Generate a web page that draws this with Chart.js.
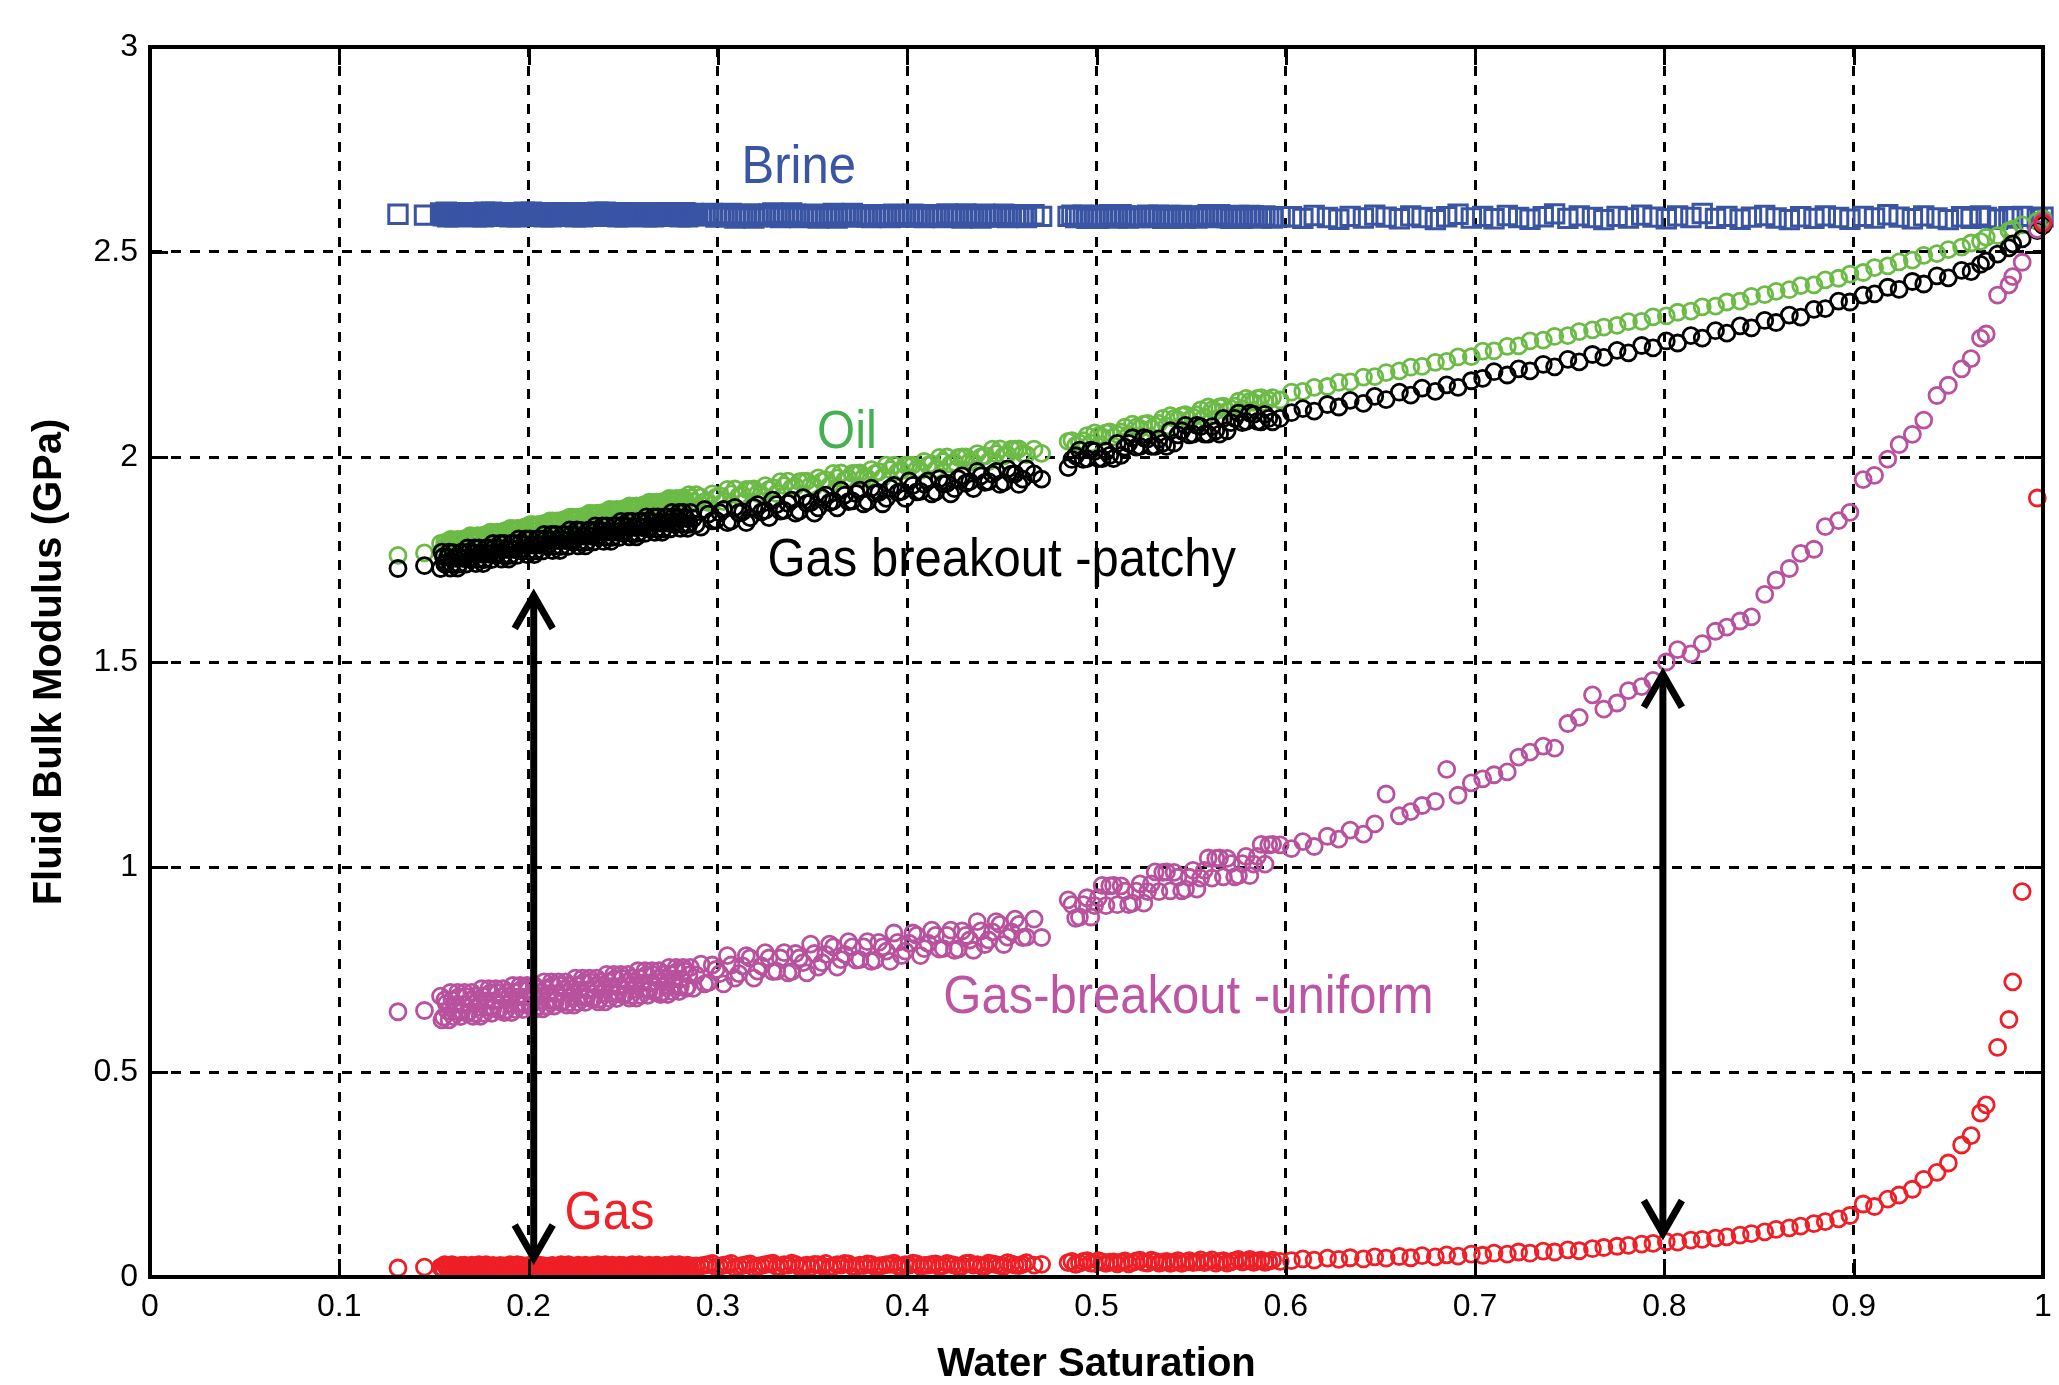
<!DOCTYPE html>
<html>
<head>
<meta charset="utf-8">
<script src="https://cdn.jsdelivr.net/npm/chart.js@4.4.0/dist/chart.umd.min.js"></script>
<style>
html,body{margin:0;padding:0;background:#fff;}
#wrap{width:2059px;height:1385px;position:relative;background:#fff;}
</style>
</head>
<body>
<div id="wrap"><canvas id="c" width="2059" height="1385"></canvas></div>
<script>
// ---------- DATA ----------
// segments: A | B | B2 | C | C2 | D | D2 | E
const sw = [
0.131,0.145,
// B
0.1535,0.155,0.1565,0.158,0.1595,0.161,0.1625,0.164,0.1655,0.167,
0.1685,0.170,0.1715,0.173,0.1745,0.176,0.1775,0.179,0.1805,0.182,
0.1835,0.185,0.1865,0.188,0.1895,0.191,0.1925,0.194,0.1955,0.197,
0.1985,0.200,0.2015,0.203,0.2045,0.206,0.2075,0.209,0.2105,0.212,
0.2135,0.215,0.2165,0.218,0.2195,0.221,0.2225,0.224,0.2255,0.227,
0.2285,0.230,0.2315,0.233,0.2345,0.236,0.2375,0.239,0.2405,0.242,
0.2435,0.245,0.2465,0.248,0.2495,0.251,0.2525,0.254,0.2555,0.257,
0.2585,0.260,0.2615,0.263,0.2645,0.266,0.2675,0.269,0.2705,0.272,
0.2735,0.275,0.2765,0.278,0.2795,0.281,0.2825,0.284,0.2855,0.287,
0.2885,
// B2
0.1542,0.1557,0.1572,0.1587,0.1602,0.1617,0.1632,0.1647,0.1662,0.1677,
0.1692,0.1707,0.1722,0.1737,0.1752,0.1767,0.1782,0.1797,0.1812,0.1827,
0.1842,0.1857,0.1872,0.1887,0.1902,0.1917,0.1932,0.1947,0.1962,0.1977,
0.1992,0.2007,0.2022,0.2037,0.2052,0.2067,0.2082,0.2097,0.2112,0.2127,
0.2142,0.2157,0.2172,0.2187,0.2202,0.2217,0.2232,0.2247,0.2262,0.2277,
0.2292,0.2307,0.2322,0.2337,0.2352,0.2367,0.2382,0.2397,0.2412,0.2427,
0.2442,0.2457,0.2472,0.2487,0.2502,0.2517,0.2532,0.2547,0.2562,0.2577,
0.2592,0.2607,0.2622,0.2637,0.2652,0.2667,0.2682,0.2697,0.2712,0.2727,
0.2742,0.2757,0.2772,0.2787,0.2802,0.2817,0.2832,0.2847,
// C
0.291,0.295,0.299,0.303,0.307,0.311,0.315,0.319,0.323,0.327,
0.331,0.335,0.339,0.343,0.347,0.351,0.355,0.359,0.363,0.367,
0.371,0.375,0.379,0.383,0.387,0.391,0.395,0.399,0.403,0.407,
0.411,0.415,0.419,0.423,0.427,0.431,0.435,0.439,0.443,0.447,
0.451,0.455,0.459,0.463,0.467,0.471,
// C2
0.293,0.297,0.301,0.305,0.309,0.313,0.317,0.321,0.325,0.329,
0.333,0.337,0.341,0.345,0.349,0.353,0.357,0.361,0.365,0.369,
0.373,0.377,0.381,0.385,0.389,0.393,0.397,0.401,0.405,0.409,
0.413,0.417,0.421,0.425,0.429,0.433,0.437,0.441,0.445,0.449,
0.453,0.457,0.461,
// D
0.485,0.489,0.493,0.497,0.501,0.505,0.509,0.513,0.517,0.521,
0.525,0.529,0.533,0.537,0.541,0.545,0.549,0.553,0.557,0.561,
0.565,0.569,0.573,0.577,0.581,0.585,0.589,0.593,0.597,
// D2
0.487,0.491,0.495,0.499,0.503,0.507,0.511,0.515,0.519,0.523,
0.527,0.531,0.535,0.539,0.543,0.547,0.551,0.555,0.559,0.563,
0.567,0.571,0.575,0.579,0.583,0.587,0.591,
// E
0.603,0.609,0.615,0.622,0.628,0.634,0.641,0.647,0.653,0.660,0.666,0.672,0.679,0.685,0.691,0.698,
0.704,0.710,0.717,0.723,0.729,0.736,0.742,0.749,0.755,0.762,0.768,0.775,0.781,0.788,0.794,0.801,
0.807,0.814,0.820,0.827,0.833,0.840,0.846,0.853,0.859,0.866,0.872,0.879,0.885,0.892,0.898,
0.905,0.911,0.918,0.924,0.931,0.937,0.944,0.950,0.957,0.962,0.967,0.970,0.976,0.982,0.984,0.989,0.997,1.000
];

const brine = [
2.592,2.590,
// B
2.595,2.588,2.597,2.590,2.593,2.586,2.596,2.591,2.589,2.594,
2.587,2.592,2.596,2.589,2.591,2.586,2.594,2.590,2.597,2.588,
2.592,2.595,2.587,2.591,2.593,2.589,2.596,2.586,2.590,2.594,
2.588,2.592,2.597,2.589,2.591,2.587,2.595,2.590,2.593,2.586,
2.592,2.596,2.588,2.591,2.594,2.589,2.587,2.595,2.590,2.593,
2.586,2.592,2.596,2.589,2.591,2.588,2.594,2.590,2.597,2.587,
2.592,2.595,2.589,2.591,2.593,2.586,2.596,2.590,2.588,2.594,
2.587,2.592,2.595,2.589,2.591,2.586,2.594,2.590,2.596,2.588,
2.592,2.595,2.587,2.591,2.593,2.589,2.596,2.586,2.590,2.594,
2.589,
// B2
2.590,2.593,2.586,2.596,2.591,2.589,2.594,
2.587,2.592,2.596,2.589,2.591,2.586,2.594,2.590,2.597,2.588,
2.592,2.595,2.587,2.591,2.593,2.589,2.596,2.586,2.590,2.594,
2.588,2.592,2.597,2.589,2.591,2.587,2.595,2.590,2.593,2.586,
2.592,2.596,2.588,2.591,2.594,2.589,2.587,2.595,2.590,2.593,
2.586,2.592,2.596,2.589,2.591,2.588,2.594,2.590,2.597,2.587,
2.592,2.595,2.589,2.591,2.593,2.586,2.596,2.590,2.588,2.594,
2.587,2.592,2.595,2.589,2.591,2.586,2.594,2.590,2.596,2.588,
2.592,2.595,2.587,2.591,2.593,2.589,2.596,2.586,2.590,2.594,
2.589,
// C
2.588,2.592,2.585,2.590,2.594,2.587,2.591,2.583,2.589,2.593,
2.586,2.590,2.595,2.584,2.588,2.592,2.586,2.590,2.583,2.589,
2.594,2.587,2.585,2.591,2.588,2.584,2.590,2.586,2.592,2.585,
2.589,2.587,2.584,2.591,2.586,2.593,2.588,2.583,2.590,2.586,
2.592,2.585,2.589,2.584,2.591,2.587,
// C2
2.590,2.594,2.587,2.591,2.583,2.589,2.593,
2.586,2.590,2.595,2.584,2.588,2.592,2.586,2.590,2.583,2.589,
2.594,2.587,2.585,2.591,2.588,2.584,2.590,2.586,2.592,2.585,
2.589,2.587,2.584,2.591,2.586,2.593,2.588,2.583,2.590,2.586,
2.592,2.585,2.589,2.584,2.591,2.587,
// D
2.587,2.584,2.590,2.586,2.582,2.589,2.585,2.591,2.583,2.588,
2.586,2.584,2.590,2.587,2.582,2.589,2.585,2.583,2.588,2.586,
2.591,2.584,2.587,2.582,2.589,2.585,2.588,2.583,2.586,
// D2
2.590,2.586,2.582,2.589,2.585,2.591,2.583,2.588,
2.586,2.584,2.590,2.587,2.582,2.589,2.585,2.583,2.588,2.586,
2.591,2.584,2.587,2.582,2.589,2.585,2.588,2.583,2.586,
// E
2.586,2.582,2.589,2.584,2.580,2.587,2.583,2.590,2.585,2.581,
2.588,2.584,2.579,2.586,2.592,2.583,2.587,2.581,2.589,2.584,
2.580,2.586,2.593,2.582,2.588,2.584,2.579,2.587,2.583,2.590,
2.585,2.581,2.588,2.584,2.594,2.582,2.587,2.580,2.585,2.589,
2.583,2.579,2.586,2.582,2.588,2.584,2.580,2.587,2.583,2.591,
2.585,2.581,2.588,2.583,2.579,2.586,2.582,2.588,2.584,2.580,
2.586,2.583,2.587,2.582,2.585
];

const oil = [
1.760,1.766,
// B
1.789,1.772,1.786,1.771,1.792,1.783,1.799,1.798,1.781,1.795,
1.780,1.801,1.792,1.808,1.807,1.791,1.804,1.789,1.810,1.801,
1.817,1.816,1.800,1.813,1.798,1.820,1.810,1.826,1.825,1.809,
1.822,1.807,1.829,1.819,1.835,1.835,1.818,1.831,1.816,1.838,
1.828,1.844,1.844,1.827,1.840,1.826,1.847,1.837,1.853,1.853,
1.836,1.849,1.835,1.856,1.846,1.863,1.862,1.845,1.858,1.844,
1.865,1.855,1.872,1.871,1.854,1.868,1.853,1.874,1.864,1.881,
1.880,1.863,1.877,1.862,1.883,1.874,1.890,1.889,1.872,1.886,
1.871,1.892,1.883,1.899,1.898,1.882,1.895,1.880,1.901,1.892,
1.908,
// B2
1.771,1.792,1.783,1.799,1.798,1.781,1.795,
1.780,1.801,1.792,1.808,1.807,1.791,1.804,1.789,1.810,1.801,
1.817,1.816,1.800,1.813,1.798,1.820,1.810,1.826,1.825,1.809,
1.822,1.807,1.829,1.819,1.835,1.835,1.818,1.831,1.816,1.838,
1.828,1.844,1.844,1.827,1.840,1.826,1.847,1.837,1.853,1.853,
1.836,1.849,1.835,1.856,1.846,1.863,1.862,1.845,1.858,1.844,
1.865,1.855,1.872,1.871,1.854,1.868,1.853,1.874,1.864,1.881,
1.880,1.863,1.877,1.862,1.883,1.874,1.890,1.889,1.872,1.886,
1.871,1.892,1.883,1.899,1.898,1.882,1.895,1.880,1.901,1.892,
1.908,
// C
1.902,1.889,1.902,1.891,1.910,1.905,1.921,1.922,1.908,1.921,
1.911,1.930,1.925,1.940,1.941,1.928,1.941,1.931,1.949,1.944,
1.960,1.961,1.948,1.960,1.950,1.969,1.964,1.980,1.980,1.967,
1.980,1.970,1.989,1.983,1.999,2.000,1.987,2.000,1.989,2.008,
2.003,2.019,2.020,2.006,2.019,2.009,
// C2
1.891,1.910,1.905,1.921,1.922,1.908,1.921,
1.911,1.930,1.925,1.940,1.941,1.928,1.941,1.931,1.949,1.944,
1.960,1.961,1.948,1.960,1.950,1.969,1.964,1.980,1.980,1.967,
1.980,1.970,1.989,1.983,1.999,2.000,1.987,2.000,1.989,2.008,
2.003,2.019,2.020,2.006,2.019,2.009,
// D
2.038,2.028,2.040,2.034,2.052,2.059,2.049,2.061,2.055,2.073,
2.080,2.070,2.082,2.076,2.094,2.101,2.091,2.103,2.097,2.115,
2.122,2.112,2.124,2.118,2.136,2.143,2.133,2.145,2.139,
// D2
2.040,2.034,2.052,2.059,2.049,2.061,2.055,2.073,
2.080,2.070,2.082,2.076,2.094,2.101,2.091,2.103,2.097,2.115,
2.122,2.112,2.124,2.118,2.136,2.143,2.133,2.145,2.139,
// E
2.158,2.160,2.170,2.172,2.182,2.183,2.195,2.196,2.206,2.210,
2.219,2.221,2.231,2.233,2.244,2.245,
2.258,2.259,2.270,2.271,2.283,2.285,2.294,2.296,2.306,2.310,2.317,2.321,2.330,2.331,2.342,2.344,
2.353,2.356,2.366,2.368,2.378,2.380,2.392,2.396,2.404,2.408,2.418,2.420,2.432,2.436,2.446,
2.450,2.462,2.466,2.476,2.480,2.492,2.496,2.506,2.512,2.522,2.526,2.536,2.540,2.552,2.556,2.566,2.575,2.582
];

const patchy = [
1.728,1.735,
// B
1.728,1.757,1.742,1.768,1.739,1.755,1.729,1.767,1.753,1.739,
1.768,1.753,1.778,1.750,1.766,1.740,1.778,1.763,1.750,1.779,
1.764,1.789,1.760,1.777,1.751,1.789,1.774,1.760,1.790,1.775,
1.800,1.771,1.787,1.762,1.800,1.785,1.771,1.800,1.786,1.811,
1.782,1.798,1.772,1.811,1.796,1.782,1.811,1.796,1.822,1.793,
1.809,1.783,1.821,1.807,1.793,1.822,1.807,1.832,1.804,1.820,
1.794,1.832,1.817,1.804,1.833,1.818,1.843,1.814,1.831,1.805,
1.843,1.828,1.814,1.844,1.829,1.854,1.825,1.841,1.816,1.854,
1.839,1.825,1.854,1.840,1.865,1.836,1.852,1.826,1.865,1.850,
1.836,
// B2
1.768,1.739,1.755,1.729,1.767,1.753,1.739,
1.768,1.753,1.778,1.750,1.766,1.740,1.778,1.763,1.750,1.779,
1.764,1.789,1.760,1.777,1.751,1.789,1.774,1.760,1.790,1.775,
1.800,1.771,1.787,1.762,1.800,1.785,1.771,1.800,1.786,1.811,
1.782,1.798,1.772,1.811,1.796,1.782,1.811,1.796,1.822,1.793,
1.809,1.783,1.821,1.807,1.793,1.822,1.807,1.832,1.804,1.820,
1.794,1.832,1.817,1.804,1.833,1.818,1.843,1.814,1.831,1.805,
1.843,1.828,1.814,1.844,1.829,1.854,1.825,1.841,1.816,1.854,
1.839,1.825,1.854,1.840,1.865,1.836,1.852,1.826,1.865,1.850,
1.836,
// C
1.829,1.861,1.846,1.872,1.844,1.864,1.840,1.877,1.866,1.852,
1.884,1.870,1.895,1.868,1.887,1.863,1.901,1.889,1.876,1.907,
1.893,1.919,1.891,1.911,1.886,1.924,1.913,1.899,1.931,1.916,
1.942,1.915,1.934,1.910,1.947,1.936,1.923,1.954,1.940,1.965,
1.938,1.958,1.933,1.971,1.959,1.946,
// C2
1.872,1.844,1.864,1.840,1.877,1.866,1.852,
1.884,1.870,1.895,1.868,1.887,1.863,1.901,1.889,1.876,1.907,
1.893,1.919,1.891,1.911,1.886,1.924,1.913,1.899,1.931,1.916,
1.942,1.915,1.934,1.910,1.947,1.936,1.923,1.954,1.940,1.965,
1.938,1.958,1.933,1.971,1.959,1.946,
// D
1.974,2.003,1.994,2.017,1.996,2.014,1.996,2.004,2.033,2.024,
2.047,2.026,2.044,2.026,2.034,2.064,2.054,2.077,2.056,2.074,
2.056,2.064,2.094,2.084,2.107,2.087,2.104,2.086,2.094,
// D2
1.994,2.017,1.996,2.014,1.996,2.004,2.033,2.024,
2.047,2.026,2.044,2.026,2.034,2.064,2.054,2.077,2.056,2.074,
2.056,2.064,2.094,2.084,2.107,2.087,2.104,2.086,2.094,
// E
2.108,2.118,2.112,2.128,2.122,2.138,2.131,2.148,2.140,2.158,
2.151,2.168,2.160,2.176,2.170,2.186,
2.192,2.208,2.200,2.215,2.210,2.226,2.220,2.238,2.232,2.250,2.243,2.260,2.254,2.272,2.266,2.283,
2.278,2.296,2.290,2.308,2.302,2.320,2.315,2.333,2.328,2.346,2.341,2.360,2.362,2.380,2.378,
2.395,2.398,2.414,2.409,2.428,2.422,2.442,2.437,2.455,2.452,2.470,2.478,2.495,2.510,2.520,2.532,2.552,2.565
];

const uniform = [
0.647,0.650,
// B
0.685,0.634,0.667,0.627,0.676,0.649,0.694,0.635,0.665,0.684,
0.647,0.694,0.643,0.675,0.636,0.685,0.658,0.703,0.643,0.674,
0.693,0.656,0.703,0.651,0.684,0.645,0.694,0.667,0.711,0.652,
0.683,0.702,0.665,0.711,0.660,0.693,0.654,0.703,0.675,0.720,
0.661,0.692,0.711,0.673,0.720,0.669,0.702,0.663,0.711,0.684,
0.729,0.670,0.701,0.719,0.682,0.729,0.678,0.711,0.671,0.720,
0.693,0.738,0.679,0.709,0.728,0.691,0.738,0.687,0.719,0.680,
0.729,0.702,0.747,0.687,0.718,0.737,0.700,0.747,0.695,0.728,
0.689,0.738,0.711,0.755,0.696,0.727,0.746,0.709,0.755,0.704,
0.737,
// B2
0.627,0.676,0.649,0.694,0.635,0.665,0.684,
0.647,0.694,0.643,0.675,0.636,0.685,0.658,0.703,0.643,0.674,
0.693,0.656,0.703,0.651,0.684,0.645,0.694,0.667,0.711,0.652,
0.683,0.702,0.665,0.711,0.660,0.693,0.654,0.703,0.675,0.720,
0.661,0.692,0.711,0.673,0.720,0.669,0.702,0.663,0.711,0.684,
0.729,0.670,0.701,0.719,0.682,0.729,0.678,0.711,0.671,0.720,
0.693,0.738,0.679,0.709,0.728,0.691,0.738,0.687,0.719,0.680,
0.729,0.702,0.747,0.687,0.718,0.737,0.700,0.747,0.695,0.728,
0.689,0.738,0.711,0.755,0.696,0.727,0.746,0.709,0.755,0.704,
0.737,
// C
0.763,0.718,0.750,0.715,0.761,0.740,0.784,0.729,0.759,0.778,
0.746,0.791,0.745,0.778,0.742,0.789,0.767,0.812,0.756,0.787,
0.805,0.774,0.818,0.773,0.805,0.770,0.816,0.795,0.839,0.784,
0.814,0.833,0.801,0.846,0.800,0.833,0.797,0.844,0.822,0.867,
0.811,0.842,0.860,0.829,0.873,0.828,
// C2
0.715,0.761,0.740,0.784,0.729,0.759,0.778,
0.746,0.791,0.745,0.778,0.742,0.789,0.767,0.812,0.756,0.787,
0.805,0.774,0.818,0.773,0.805,0.770,0.816,0.795,0.839,0.784,
0.814,0.833,0.801,0.846,0.800,0.833,0.797,0.844,0.822,0.867,
0.811,0.842,0.860,0.829,0.873,0.828,
// D
0.920,0.875,0.908,0.878,0.925,0.906,0.955,0.954,0.908,0.941,
0.912,0.959,0.940,0.988,0.987,0.942,0.975,0.946,0.992,0.973,
1.022,1.021,0.976,1.008,0.979,1.026,1.007,1.055,1.054,
// D2
0.908,0.878,0.925,0.906,0.955,0.954,0.908,0.941,
0.912,0.959,0.940,0.988,0.987,0.942,0.975,0.946,0.992,0.973,
1.022,1.021,0.976,1.008,0.979,1.026,1.007,1.055,1.054,
// E
1.045,1.062,1.050,1.075,1.068,1.090,1.080,1.105,1.178,1.125,
1.135,1.150,1.160,1.238,1.175,1.205,
1.215,1.225,1.232,1.268,1.280,1.295,1.290,1.350,1.365,1.420,1.385,1.400,1.430,1.440,1.455,1.500,
1.530,1.520,1.545,1.575,1.585,1.600,1.610,1.665,1.700,1.728,1.765,1.775,1.830,1.845,1.865,
1.945,1.955,1.995,2.030,2.055,2.090,2.150,2.175,2.215,2.240,2.290,2.300,2.395,2.420,2.440,2.475,2.555,2.575
];

const gas = [
0.022,0.024,
// B
0.024,0.019,0.027,0.022,0.030,0.020,0.025,0.028,0.021,0.026,
0.023,0.029,0.019,0.025,0.022,0.027,0.030,0.021,0.024,0.026,
0.020,0.028,0.023,0.025,0.019,0.027,0.022,0.030,0.024,0.021,
0.026,0.028,0.020,0.025,0.023,0.029,0.022,0.026,0.019,0.027,
0.024,0.021,0.028,0.025,0.022,0.030,0.020,0.026,0.023,0.027,
0.021,0.029,0.024,0.022,0.026,0.019,0.028,0.023,0.030,0.025,
0.021,0.027,0.024,0.029,0.020,0.026,0.022,0.028,0.025,0.023,
0.030,0.021,0.027,0.024,0.019,0.026,0.029,0.022,0.025,0.028,
0.023,0.020,0.027,0.024,0.030,0.022,0.026,0.029,0.021,0.025,
0.027,
// B2
0.022,0.030,0.020,0.025,0.028,0.021,0.026,
0.023,0.029,0.019,0.025,0.022,0.027,0.030,0.021,0.024,0.026,
0.020,0.028,0.023,0.025,0.019,0.027,0.022,0.030,0.024,0.021,
0.026,0.028,0.020,0.025,0.023,0.029,0.022,0.026,0.019,0.027,
0.024,0.021,0.028,0.025,0.022,0.030,0.020,0.026,0.023,0.027,
0.021,0.029,0.024,0.022,0.026,0.019,0.028,0.023,0.030,0.025,
0.021,0.027,0.024,0.029,0.020,0.026,0.022,0.028,0.025,0.023,
0.030,0.021,0.027,0.024,0.019,0.026,0.029,0.022,0.025,0.028,
0.023,0.020,0.027,0.024,0.030,0.022,0.026,0.029,0.021,0.025,
0.027,
// C
0.027,0.031,0.024,0.029,0.033,0.026,0.030,0.023,0.028,0.032,
0.026,0.030,0.034,0.025,0.029,0.031,0.027,0.024,0.030,0.033,
0.026,0.029,0.032,0.025,0.028,0.031,0.027,0.030,0.034,0.026,
0.029,0.032,0.028,0.031,0.025,0.033,0.029,0.027,0.034,0.030,
0.026,0.032,0.028,0.035,0.029,0.031,
// C2
0.029,0.033,0.026,0.030,0.023,0.028,0.032,
0.026,0.030,0.034,0.025,0.029,0.031,0.027,0.024,0.030,0.033,
0.026,0.029,0.032,0.025,0.028,0.031,0.027,0.030,0.034,0.026,
0.029,0.032,0.028,0.031,0.025,0.033,0.029,0.027,0.034,0.030,
0.026,0.032,0.028,0.035,0.029,0.031,
// D
0.035,0.031,0.038,0.034,0.040,0.033,0.037,0.036,0.032,0.039,
0.035,0.041,0.034,0.038,0.036,0.033,0.040,0.037,0.035,0.042,
0.038,0.034,0.040,0.037,0.043,0.039,0.036,0.041,0.038,
// D2
0.038,0.034,0.040,0.033,0.037,0.036,0.032,0.039,
0.035,0.041,0.034,0.038,0.036,0.033,0.040,0.037,0.035,0.042,
0.038,0.034,0.040,0.037,0.043,0.039,0.036,0.041,0.038,
// E
0.040,0.044,0.041,0.046,0.043,0.047,0.044,0.049,0.046,0.050,
0.047,0.052,0.049,0.054,0.051,0.056,
0.053,0.058,0.056,0.061,0.058,0.063,0.061,0.066,0.064,0.069,0.072,0.075,0.077,0.080,0.082,0.086,
0.085,0.090,0.092,0.095,0.098,0.102,0.106,0.110,0.116,0.120,0.124,0.130,0.135,0.142,0.150,
0.178,0.172,0.190,0.200,0.214,0.238,0.255,0.278,0.322,0.345,0.400,0.420,0.560,0.628,0.720,0.940,1.900,2.570
];

const xTickValues = [0,0.1,0.2,0.3,0.4,0.5,0.6,0.7,0.8,0.9,1];
const xTickLabels = ['0','0.1','0.2','0.3','0.4','0.5','0.6','0.7','0.8','0.9','1'];
const yTickValues = [0,0.5,1,1.5,2,2.5,3];
const yTickLabels = ['0','0.5','1','1.5','2','2.5','3'];
const xTitle = 'Water Saturation';
const yTitle = 'Fluid Bulk Modulus (GPa)';

// in-plot labels (data coordinates of the left/middle anchor)
const labelTexts = ['Brine','Oil','Gas breakout -patchy','Gas-breakout -uniform','Gas'];
const labelX = [0.3125,0.3524,0.3262,0.4191,0.219];
const labelY = [2.705,2.057,1.745,0.680,0.154];

// double-headed arrows (data coordinates)
const arrowX = [0.2027,0.7992];
const arrowTop = [1.679,1.487];
const arrowBottom = [0.029,0.089];

// ---------- STYLE ----------
const FONT = '"Liberation Sans", Arial, Helvetica, sans-serif';
const COLORS = {brine:'#3a54a4', oil:'#6bbb46', patchy:'#000000', uniform:'#b8519e', gas:'#ee1f26'};
const labelColors = ['#3b55a5','#45b052','#000000','#bd55a3','#ee2228'];

function series(name, vals, color, style, radius, bw, order) {
  const pts = [];
  for (let i = 0; i < sw.length; i++) {
    if (vals[i] !== undefined) pts.push({x: sw[i], y: vals[i]});
  }
  return {
    label: name, data: pts, showLine: false,
    pointStyle: style, pointRadius: radius, pointHoverRadius: radius,
    pointBorderWidth: bw, pointBorderColor: color, pointBackgroundColor: 'rgba(0,0,0,0)',
    borderColor: color, backgroundColor: 'rgba(0,0,0,0)',
    order: order, clip: false
  };
}

const annot = {
  id: 'annot',
  afterDatasetsDraw(chart) {
    const {ctx, scales: {x, y}} = chart;
    ctx.save();
    ctx.font = '49px ' + FONT;
    ctx.textBaseline = 'middle';
    ctx.textAlign = 'left';
    for (let i = 0; i < labelTexts.length; i++) {
      const px = x.getPixelForValue(labelX[i]);
      const py = y.getPixelForValue(labelY[i]);
      ctx.save();
      ctx.translate(px, py);
      ctx.scale(1, 1.1);
      ctx.fillStyle = labelColors[i];
      ctx.fillText(labelTexts[i], 0, 0);
      ctx.restore();
    }
    ctx.strokeStyle = '#000';
    ctx.lineWidth = 7;
    ctx.lineJoin = 'miter';
    ctx.lineCap = 'butt';
    for (let i = 0; i < arrowX.length; i++) {
      const px = x.getPixelForValue(arrowX[i]);
      const pt = y.getPixelForValue(arrowTop[i]) + 7;
      const pb = y.getPixelForValue(arrowBottom[i]) - 7;
      ctx.beginPath();
      ctx.moveTo(px, pt + 2);
      ctx.lineTo(px, pb - 2);
      ctx.stroke();
      ctx.beginPath();
      ctx.moveTo(px - 19, pt + 33);
      ctx.lineTo(px, pt);
      ctx.lineTo(px + 19, pt + 33);
      ctx.stroke();
      ctx.beginPath();
      ctx.moveTo(px - 19, pb - 33);
      ctx.lineTo(px, pb);
      ctx.lineTo(px + 19, pb - 33);
      ctx.stroke();
    }
    ctx.restore();
  },
  afterDraw(chart) {
    const {ctx, chartArea: a, scales: {x, y}} = chart;
    ctx.save();
    ctx.strokeStyle = '#000';
    ctx.lineWidth = 3;
    ctx.setLineDash([]);
    const T = 18;
    for (const v of xTickValues) {
      const px = Math.round(x.getPixelForValue(v)) + 0.5;
      ctx.beginPath();
      ctx.moveTo(px, a.bottom); ctx.lineTo(px, a.bottom - T);
      ctx.moveTo(px, a.top); ctx.lineTo(px, a.top + T);
      ctx.stroke();
    }
    for (const v of yTickValues) {
      const py = Math.round(y.getPixelForValue(v)) + 0.5;
      ctx.beginPath();
      ctx.moveTo(a.left, py); ctx.lineTo(a.left + T, py);
      ctx.moveTo(a.right, py); ctx.lineTo(a.right - T, py);
      ctx.stroke();
    }
    ctx.lineWidth = 4;
    ctx.strokeRect(a.left, a.top, a.right - a.left, a.bottom - a.top);
    ctx.restore();
  }
};

new Chart(document.getElementById('c'), {
  type: 'scatter',
  data: {
    datasets: [
      series('Brine', brine, COLORS.brine, 'rect', 13, 3, 5),
      series('Oil', oil, COLORS.oil, 'circle', 8, 2.8, 4),
      series('Gas breakout -patchy', patchy, COLORS.patchy, 'circle', 8, 2.8, 3),
      series('Gas-breakout -uniform', uniform, COLORS.uniform, 'circle', 8, 2.8, 2),
      series('Gas', gas, COLORS.gas, 'circle', 8, 2.8, 1)
    ]
  },
  options: {
    responsive: false,
    animation: false,
    devicePixelRatio: 1,
    events: [],
    layout: {padding: {top: 47, right: 5, bottom: 0, left: 0}},
    plugins: {legend: {display: false}, tooltip: {enabled: false}},
    scales: {
      x: {
        type: 'linear', min: 0, max: 1,
        afterBuildTicks: s => { s.ticks = xTickValues.map(v => ({value: v})); },
        afterFit: s => { s.height = 108; s.paddingLeft = 0; s.paddingRight = 0; },
        ticks: {
          callback: (v, i) => xTickLabels[i],
          color: '#000', font: {family: FONT, size: 32}, padding: 11,
          maxRotation: 0, minRotation: 0, autoSkip: false
        },
        grid: {color: '#000', lineWidth: 3, drawTicks: false},
        border: {display: true, color: '#000', width: 4, dash: [10, 9]},
        title: {display: true, text: xTitle, color: '#000',
                font: {family: FONT, size: 40, weight: 'bold', lineHeight: 1},
                padding: {top: 0, bottom: 0}}
      },
      y: {
        type: 'linear', min: 0, max: 3,
        afterBuildTicks: s => { s.ticks = yTickValues.map(v => ({value: v})); },
        afterFit: s => { s.width = 150; s.paddingTop = 0; s.paddingBottom = 0; },
        ticks: {
          callback: (v, i) => yTickLabels[i],
          color: '#000', font: {family: FONT, size: 32}, padding: 12, autoSkip: false
        },
        grid: {color: '#000', lineWidth: 3, drawTicks: false},
        border: {display: true, color: '#000', width: 4, dash: [10, 9]},
        title: {display: true, text: yTitle, color: '#000',
                font: {family: FONT, size: 40, weight: 'bold', lineHeight: 1},
                padding: {top: 30, bottom: 0}}
      }
    }
  },
  plugins: [annot]
});
</script>
</body>
</html>
